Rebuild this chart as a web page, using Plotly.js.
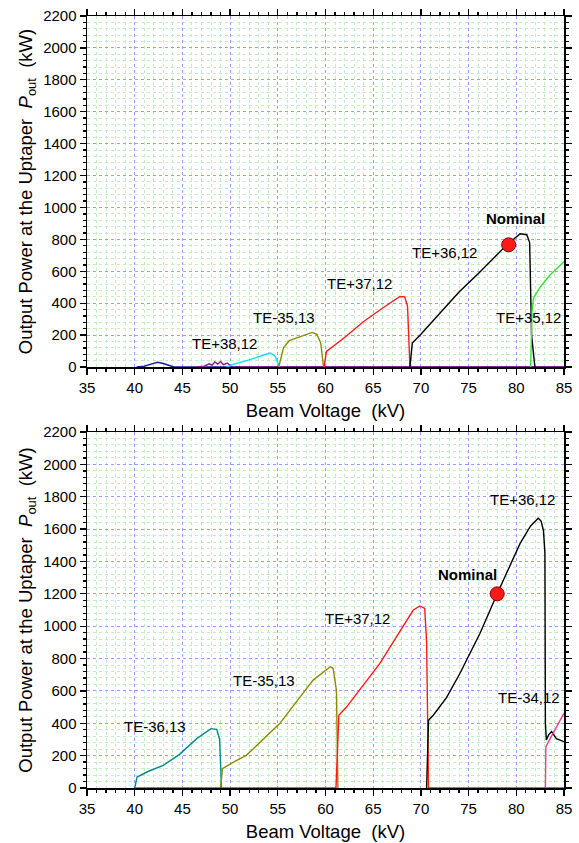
<!DOCTYPE html>
<html><head><meta charset="utf-8">
<script src="https://cdn.plot.ly/plotly-3.0.1.min.js"></script>
<style>body{margin:0;background:#fff}#c{width:579px;height:843px}</style>
</head><body><div id="c"></div>
<script>
// ---- Top panel series (Beam Voltage kV, Output power kW) ----
const topNavyX = [40.2, 41.0, 41.8, 42.4, 43.0, 43.6, 44.1, 85];
const topNavyY = [0, 5, 20, 30, 22, 10, 0, 0];
const topPurpleX = [46.5, 47.3, 47.8, 48.1, 48.4, 48.7, 49.0, 49.3, 49.7, 50.2, 85];
const topPurpleY = [0, 5, 20, 12, 32, 18, 35, 15, 25, 0, 0];
const topCyanX = [49.6, 50.5, 52.0, 53.5, 54.2, 54.7, 55.2];
const topCyanY = [0, 20, 45, 75, 88, 70, 0];
const topOliveX = [55.1, 55.6, 56.2, 57.5, 58.6, 59.1, 59.5, 59.8];
const topOliveY = [0, 120, 165, 195, 217, 205, 150, 0];
const topRedX = [59.85, 60.1, 62.0, 64.0, 66.0, 67.8, 68.3, 68.6, 68.85];
const topRedY = [0, 98, 185, 285, 370, 442, 440, 380, 0];
const topBlackX = [68.85, 69.1, 70.0, 72.0, 74.0, 76.0, 78.0, 79.2, 80.0, 80.4, 81.1, 81.4, 81.6, 81.95];
const topBlackY = [0, 150, 205, 335, 470, 585, 705, 777, 815, 835, 829, 780, 200, 0];
const topGreenX = [81.5, 81.65, 81.8, 82.5, 83.5, 85];
const topGreenY = [0, 350, 432, 500, 575, 662];
const topNominalX = [79.2];
const topNominalY = [766];

// ---- Bottom panel series ----
const botTealX = [40.0, 40.25, 41.5, 43.0, 44.7, 46.5, 48.0, 48.6, 48.9, 49.1];
const botTealY = [0, 68, 105, 140, 208, 305, 367, 362, 300, 0];
const botOliveX = [49.0, 49.2, 50.5, 51.7, 55.2, 58.7, 60.5, 60.8, 61.15, 61.3];
const botOliveY = [0, 120, 165, 202, 398, 667, 749, 740, 600, 0];
const botRedX = [40.0, 61.1, 61.4, 62.2, 65.7, 69.2, 69.9, 70.4, 70.6, 70.8, 85];
const botRedY = [0, 0, 450, 500, 770, 1100, 1125, 1110, 900, 0, 0];
const botBlackX = [70.6, 70.8, 71.3, 72.7, 74.1, 76.2, 78.0, 80.4, 81.5, 82.3, 82.6, 82.85, 83.0, 83.05, 83.15, 83.4, 83.7, 84.2, 85];
const botBlackY = [0, 419, 450, 560, 709, 956, 1200, 1512, 1620, 1667, 1650, 1590, 1450, 402, 297, 330, 348, 305, 286];
const botPinkX = [83.05, 83.1, 85];
const botPinkY = [0, 255, 463];
const botNominalX = [78.0];
const botNominalY = [1200];

// ---- Labels ----
const topLabels = [
  {t: 'TE+38,12', x: 49.4, y: 146},
  {t: 'TE-35,13', x: 55.7, y: 313},
  {t: 'TE+37,12', x: 63.6, y: 522},
  {t: 'TE+36,12', x: 72.5, y: 720},
  {t: 'TE+35,12', x: 81.3, y: 313},
  {t: '<b>Nominal</b>', x: 79.9, y: 930}
];
const botLabels = [
  {t: 'TE-36,13', x: 42.1, y: 382},
  {t: 'TE-35,13', x: 53.6, y: 662},
  {t: 'TE+37,12', x: 63.4, y: 1048},
  {t: 'TE+36,12', x: 80.6, y: 1785},
  {t: 'TE-34,12', x: 81.3, y: 559},
  {t: '<b>Nominal</b>', x: 74.9, y: 1322}
];
const xTicks = [35, 40, 45, 50, 55, 60, 65, 70, 75, 80, 85];
const yTicks = [0, 200, 400, 600, 800, 1000, 1200, 1400, 1600, 1800, 2000, 2200];

function line(x, y, color, xa, ya) {
  return {x: x, y: y, type: 'scatter', mode: 'lines', line: {color: color, width: 1.4},
          xaxis: xa, yaxis: ya, hoverinfo: 'skip'};
}
function nominal(x, y, xa, ya) {
  return {x: x, y: y, type: 'scatter', mode: 'markers', xaxis: xa, yaxis: ya,
          marker: {color: '#ff1a1a', size: 14, line: {color: '#8b0000', width: 1}}};
}
const data = [
  line(topNavyX, topNavyY, '#1a1a8c', 'x', 'y'),
  line(topPurpleX, topPurpleY, '#8b1a8b', 'x', 'y'),
  line(topCyanX, topCyanY, '#00e5ff', 'x', 'y'),
  line(topOliveX, topOliveY, '#8b8b00', 'x', 'y'),
  line(topRedX, topRedY, '#ff1a1a', 'x', 'y'),
  line(topBlackX, topBlackY, '#000000', 'x', 'y'),
  line(topGreenX, topGreenY, '#33e633', 'x', 'y'),
  nominal(topNominalX, topNominalY, 'x', 'y'),
  line(botTealX, botTealY, '#008b8b', 'x2', 'y2'),
  line(botOliveX, botOliveY, '#8b8b00', 'x2', 'y2'),
  line(botRedX, botRedY, '#ff1a1a', 'x2', 'y2'),
  line(botBlackX, botBlackY, '#000000', 'x2', 'y2'),
  line(botPinkX, botPinkY, '#ff3399', 'x2', 'y2'),
  nominal(botNominalX, botNominalY, 'x2', 'y2')
];

const tickFont = {family: 'Liberation Sans, Arial, sans-serif', size: 15, color: '#000'};
const titleFont = {family: 'Liberation Sans, Arial, sans-serif', size: 18.5, color: '#000'};
function xax(anchor) {
  return {anchor: anchor, range: [35, 85], tickvals: xTicks, ticktext: xTicks.map(String),
    ticks: 'outside', ticklen: 6, tickwidth: 1.3, tickcolor: '#000',
    showline: true, linecolor: '#000', linewidth: 1.5, mirror: 'allticks',
    showgrid: true, gridcolor: '#9a9aff', griddash: 'dot', gridwidth: 1,
    minor: {dtick: 1, ticks: 'outside', ticklen: 3, tickcolor: '#000', showgrid: true, gridcolor: '#bff0bf', griddash: 'dot', gridwidth: 1},
    zeroline: false, tickfont: tickFont,
    title: {text: 'Beam Voltage&nbsp;&nbsp;(kV)', font: titleFont, standoff: 9}};
}
function yax(anchor, dom) {
  return {anchor: anchor, domain: dom, range: [0, 2200], tickvals: yTicks, ticktext: yTicks.map(String),
    ticks: 'outside', ticklen: 6, tickwidth: 1.3, tickcolor: '#000',
    showline: true, linecolor: '#000', linewidth: 1.5, mirror: 'allticks',
    showgrid: true, gridcolor: '#9a9aff', griddash: 'dot', gridwidth: 1,
    minor: {dtick: 40, ticks: 'outside', ticklen: 3, tickcolor: '#000', showgrid: true, gridcolor: '#bff0bf', griddash: 'dot', gridwidth: 1},
    zeroline: false, tickfont: tickFont,
    title: {text: 'Output Power at the Uptaper&nbsp;&nbsp;<i>P</i><sub>out</sub>&nbsp;&nbsp;(kW)', font: titleFont, standoff: 5}};
}
const annFont = {family: 'Liberation Sans, Arial, sans-serif', size: 15, color: '#000'};
const annotations = [];
topLabels.forEach(l => annotations.push({x: l.x, y: l.y, xref: 'x', yref: 'y', text: l.t, showarrow: false, font: annFont}));
botLabels.forEach(l => annotations.push({x: l.x, y: l.y, xref: 'x2', yref: 'y2', text: l.t, showarrow: false, font: annFont}));

const layout = {
  width: 579, height: 843,
  margin: {l: 87, r: 15, t: 16, b: 55},
  paper_bgcolor: '#fff', plot_bgcolor: '#fff',
  showlegend: false,
  xaxis: xax('y'),
  yaxis: yax('x', [0.5453, 1]),
  xaxis2: xax('y2'),
  yaxis2: yax('x2', [0, 0.4611]),
  annotations: annotations
};
Plotly.newPlot('c', data, layout, {staticPlot: true});
</script></body></html>
